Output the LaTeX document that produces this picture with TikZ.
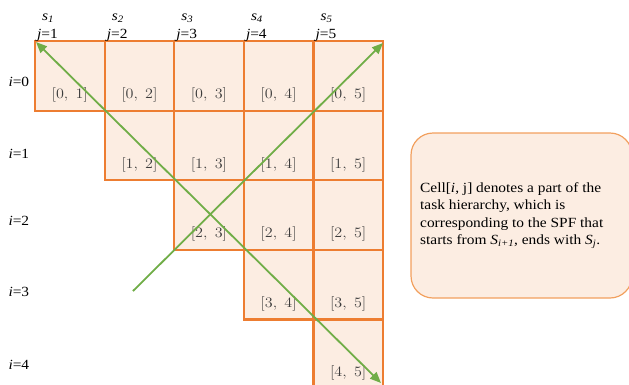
\documentclass[tikz,border=0pt]{standalone}
\usepackage{fontspec}
\setmainfont{Liberation Serif}[FakeStretch=1.1]
\usetikzlibrary{arrows.meta}
\definecolor{cellorange}{HTML}{ED7D31}
\definecolor{cellfill}{HTML}{FCEDE2}
\definecolor{arrowgreen}{HTML}{70AD47}
\definecolor{labelgray}{HTML}{3C3C3C}
\definecolor{boxorange}{HTML}{F2A05E}
\begin{document}
\begin{tikzpicture}[x=1pt,y=-1pt,
  cellbox/.style={draw=cellorange,fill=cellfill,line width=2.2pt,minimum width=69.6pt,minimum height=69.6pt,inner sep=0pt,outer sep=0pt},
  celltext/.style={font=\fontsize{15}{17}\selectfont,text=labelgray,inner sep=0pt},
  rowlab/.style={font=\fontsize{14}{16}\selectfont,anchor=west},
  collab/.style={font=\fontsize{14}{16}\selectfont,anchor=base west,inner sep=0pt},
  greenarrow/.style={draw=arrowgreen,line width=1.8pt,arrows={-{Triangle[length=11pt,width=9pt]}}},
  notebox/.style={draw=boxorange,fill=cellfill,line width=1.2pt,rounded corners=22pt}]
\useasboundingbox (0,0) rectangle (629,384);
\clip (0,0) rectangle (629,384);
% cells
\foreach \i in {0,...,4}{
  \foreach \j in {1,...,5}{
    \ifnum\j>\i
      \node[cellbox] (c-\i-\j) at ({35+69.6*(\j-1)+34.8},{41+69.6*\i+34.8}) {};
      \node[celltext,anchor=base] (t-\i-\j) at ({35+69.6*(\j-1)+34.8},{41+69.6*\i+57.5}) {\scalebox{1.12}[1]{$[\i,\ \j]$}};
    \fi
  }
}
% row labels
\foreach \i/\y in {0/82,1/154,2/221,3/292,4/365}{
  \node[rowlab] (r-\i) at (5,\y) {\textit{i}=\i};
}
% column labels
\foreach \j in {1,...,5}{
  \node[collab] (s-\j) at ({42+69.6*(\j-1)},20.5) {\textit{s}\textsubscript{\textit{\j}}};
  \node[collab] (j-\j) at ({37+69.6*(\j-1)},38) {\textit{j}=\j};
}
% arrows
\coordinate (a1) at (133,291);
\coordinate (a2) at (383,43);
\coordinate (b1) at (36,42);
\coordinate (b2) at (381,383);
\draw[greenarrow] (a1) -- (a2);
\draw[greenarrow,arrows={{Triangle[length=11pt,width=9pt]}-{Triangle[length=11pt,width=9pt]}}] (b2) -- (b1);
% note box
\draw[notebox] (411,133) rectangle (632,298);
\node[anchor=west,align=left,font=\fontsize{14}{17.4}\selectfont,inner sep=0pt] (note) at (420,215.5)
  {Cell[\textit{i}, j] denotes a part of the\\ task hierarchy, which is\\ corresponding to the SPF that\\ starts from \textit{S}\textsubscript{\textit{i+1}}, ends with \textit{S}\textsubscript{\textit{j}}.};
\end{tikzpicture}
\end{document}
